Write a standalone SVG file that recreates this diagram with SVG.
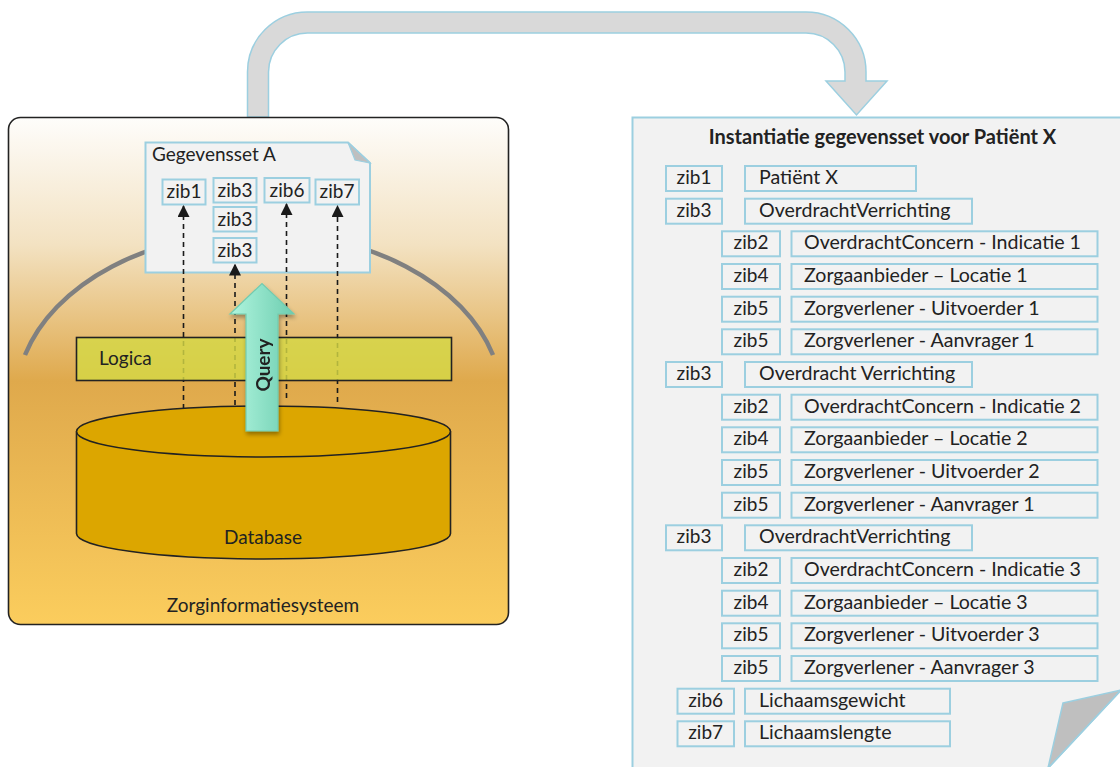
<svg xmlns="http://www.w3.org/2000/svg" width="1120" height="767" viewBox="0 0 1120 767">
<defs>
<linearGradient id="sysGrad" x1="0" y1="0" x2="0" y2="1">
<stop offset="0" stop-color="#fefdfb"/>
<stop offset="0.25" stop-color="#f3e2c2"/>
<stop offset="0.52" stop-color="#dfa94c"/>
<stop offset="1" stop-color="#fbcd5d"/>
</linearGradient>
<linearGradient id="queryGrad" x1="0" y1="0" x2="1" y2="0">
<stop offset="0" stop-color="#b0f5de"/>
<stop offset="1" stop-color="#6dcdb0"/>
</linearGradient>
<filter id="shadow" x="-30%" y="-10%" width="160%" height="130%">
<feGaussianBlur in="SourceAlpha" stdDeviation="2"/>
<feOffset dx="1" dy="3" result="b"/>
<feComponentTransfer><feFuncA type="linear" slope="0.35"/></feComponentTransfer>
<feMerge><feMergeNode/><feMergeNode in="SourceGraphic"/></feMerge>
</filter>
<marker id="tri" viewBox="0 0 12 12" refX="12" refY="6" markerWidth="12" markerHeight="12" markerUnits="userSpaceOnUse" orient="auto">
<path d="M0,0 L12,6 L0,12 Z" fill="#1a1a1a"/>
</marker>
</defs>
<style>
text{font-family:Lato,"Liberation Sans",sans-serif;fill:#222;}
.t{font-size:19px;}
.r{font-size:19.6px;}
.c{text-anchor:middle;}
.zb{fill:#f2f2f2;stroke:#9ccfe0;stroke-width:2;}
.doc{fill:#f2f2f2;stroke:#9ccfe0;stroke-width:2;}
.dash{stroke:#1a1a1a;stroke-width:1.6;stroke-dasharray:5,4;fill:none;marker-end:url(#tri);}
.blk{stroke:#222;stroke-width:1.6;}
</style>

<g id="flow-arrow">
<path d="M247.5,117 V72 A60,60 0 0 1 307.5,12 H806 A60,60 0 0 1 866,72 V81 H887 L856.5,115 L826,81 H845 V72 A39,39 0 0 0 806,33 H307.5 A39,39 0 0 0 268.5,72 V117 Z" fill="#d9d9d9" stroke="#9ccfe0" stroke-width="1.5"/>
</g>

<g id="zorginformatiesysteem">
<rect x="8.5" y="117.5" width="500" height="507" rx="12" fill="url(#sysGrad)" class="blk"/>
<path d="M25,355 A243,168 0 0 1 493,355" fill="none" stroke="#808080" stroke-width="4.5"/>
<text class="t c" x="263" y="612">Zorginformatiesysteem</text>
</g>

<g id="gegevensset-a">
<path d="M145.5,142.5 H348 L370,163 V272.5 H145.5 Z" class="doc"/>
<path d="M348,142.5 L370,163 L355,160 Z" fill="#bfbfbf" stroke="#9ccfe0" stroke-width="1.2"/>
<text class="t" x="152" y="161">Gegevensset A</text>
<rect class="zb" x="162.5" y="179.5" width="43" height="25"/>
<text class="t c" x="184" y="198">zib1</text>
<rect class="zb" x="213.5" y="178" width="43" height="24.5"/>
<text class="t c" x="235" y="196.5">zib3</text>
<rect class="zb" x="213.5" y="207" width="43" height="24.5"/>
<text class="t c" x="235" y="225.5">zib3</text>
<rect class="zb" x="213.5" y="238" width="43" height="24.5"/>
<text class="t c" x="235" y="256.5">zib3</text>
<rect class="zb" x="264.5" y="178" width="45" height="24.5"/>
<text class="t c" x="287" y="196.5">zib6</text>
<rect class="zb" x="315.5" y="179.5" width="43.5" height="25"/>
<text class="t c" x="337" y="198">zib7</text>
</g>

<g id="connectors">
<line class="dash" x1="183.5" y1="409" x2="183.5" y2="205"/>
<line class="dash" x1="235" y1="405" x2="235" y2="263.5"/>
<line class="dash" x1="286.5" y1="398" x2="286.5" y2="203"/>
<line class="dash" x1="337.5" y1="402" x2="337.5" y2="205"/>
</g>

<g id="logica">
<rect x="76.5" y="337.5" width="375" height="43" fill="#d4d846" fill-opacity="0.82" class="blk"/>
<text class="t" x="99" y="365">Logica</text>
</g>

<g id="database">
<path d="M76.5,431.5 V533.5 A187,25.5 0 0 0 450.5,533.5 V431.5" fill="#dca600" class="blk"/>
<ellipse cx="263.5" cy="431.5" rx="187" ry="25.5" fill="#dca600" class="blk"/>
<text class="t c" x="263" y="544">Database</text>
</g>

<g id="query" filter="url(#shadow)">
<path d="M246,431 V314 H230 L262,283.5 L294,314 H278 V431 Z" fill="url(#queryGrad)" stroke="#72cbb0" stroke-width="1.2"/>
<text transform="translate(270,365) rotate(-90)" text-anchor="middle" font-size="19" font-weight="bold" fill="#333">Query</text>
</g>

<g id="instantiatie">
<path d="M632.5,117.5 H1121 V690 L1048,768 H632.5 Z" class="doc"/>
<path d="M1063,703 L1121,690 L1048,768 Z" fill="#bfbfbf" stroke="#9ccfe0" stroke-width="1.5"/>
<text x="882.5" y="144" text-anchor="middle" font-size="20" font-weight="bold">Instantiatie gegevensset voor Patiënt X</text>
</g>

<g id="row-zib1"><rect class="zb" x="666" y="166" width="56" height="25"/><text class="t c" x="694" y="184">zib1</text><rect class="zb" x="745" y="166" width="171" height="25"/><text class="r" x="759" y="184">Patiënt X</text></g>
<g id="row-zib3-a"><rect class="zb" x="666" y="198.7" width="56" height="25"/><text class="t c" x="694" y="216.7">zib3</text><rect class="zb" x="745" y="198.7" width="227" height="25"/><text class="r" x="759" y="216.7">OverdrachtVerrichting</text></g>
<g id="row-zib2-a"><rect class="zb" x="722" y="231.3" width="58" height="25"/><text class="t c" x="751" y="249.3">zib2</text><rect class="zb" x="791.5" y="231.3" width="306" height="25"/><text class="r" x="804" y="249.3">OverdrachtConcern - Indicatie 1</text></g>
<g id="row-zib4-a"><rect class="zb" x="722" y="264" width="58" height="25"/><text class="t c" x="751" y="282">zib4</text><rect class="zb" x="791.5" y="264" width="306" height="25"/><text class="r" x="804" y="282">Zorgaanbieder – Locatie 1</text></g>
<g id="row-zib5-a1"><rect class="zb" x="722" y="296.7" width="58" height="25"/><text class="t c" x="751" y="314.7">zib5</text><rect class="zb" x="791.5" y="296.7" width="306" height="25"/><text class="r" x="804" y="314.7">Zorgverlener - Uitvoerder 1</text></g>
<g id="row-zib5-a2"><rect class="zb" x="722" y="329.3" width="58" height="25"/><text class="t c" x="751" y="347.3">zib5</text><rect class="zb" x="791.5" y="329.3" width="306" height="25"/><text class="r" x="804" y="347.3">Zorgverlener - Aanvrager 1</text></g>
<g id="row-zib3-b"><rect class="zb" x="666" y="362" width="56" height="25"/><text class="t c" x="694" y="380">zib3</text><rect class="zb" x="745" y="362" width="227" height="25"/><text class="r" x="759" y="380">Overdracht Verrichting</text></g>
<g id="row-zib2-b"><rect class="zb" x="722" y="394.7" width="58" height="25"/><text class="t c" x="751" y="412.7">zib2</text><rect class="zb" x="791.5" y="394.7" width="306" height="25"/><text class="r" x="804" y="412.7">OverdrachtConcern - Indicatie 2</text></g>
<g id="row-zib4-b"><rect class="zb" x="722" y="427.3" width="58" height="25"/><text class="t c" x="751" y="445.3">zib4</text><rect class="zb" x="791.5" y="427.3" width="306" height="25"/><text class="r" x="804" y="445.3">Zorgaanbieder – Locatie 2</text></g>
<g id="row-zib5-b1"><rect class="zb" x="722" y="460" width="58" height="25"/><text class="t c" x="751" y="478">zib5</text><rect class="zb" x="791.5" y="460" width="306" height="25"/><text class="r" x="804" y="478">Zorgverlener - Uitvoerder 2</text></g>
<g id="row-zib5-b2"><rect class="zb" x="722" y="492.7" width="58" height="25"/><text class="t c" x="751" y="510.7">zib5</text><rect class="zb" x="791.5" y="492.7" width="306" height="25"/><text class="r" x="804" y="510.7">Zorgverlener - Aanvrager 1</text></g>
<g id="row-zib3-c"><rect class="zb" x="666" y="525.3" width="56" height="25"/><text class="t c" x="694" y="543.3">zib3</text><rect class="zb" x="745" y="525.3" width="227" height="25"/><text class="r" x="759" y="543.3">OverdrachtVerrichting</text></g>
<g id="row-zib2-c"><rect class="zb" x="722" y="558" width="58" height="25"/><text class="t c" x="751" y="576">zib2</text><rect class="zb" x="791.5" y="558" width="306" height="25"/><text class="r" x="804" y="576">OverdrachtConcern - Indicatie 3</text></g>
<g id="row-zib4-c"><rect class="zb" x="722" y="590.7" width="58" height="25"/><text class="t c" x="751" y="608.7">zib4</text><rect class="zb" x="791.5" y="590.7" width="306" height="25"/><text class="r" x="804" y="608.7">Zorgaanbieder – Locatie 3</text></g>
<g id="row-zib5-c1"><rect class="zb" x="722" y="623.3" width="58" height="25"/><text class="t c" x="751" y="641.3">zib5</text><rect class="zb" x="791.5" y="623.3" width="306" height="25"/><text class="r" x="804" y="641.3">Zorgverlener - Uitvoerder 3</text></g>
<g id="row-zib5-c2"><rect class="zb" x="722" y="656" width="58" height="25"/><text class="t c" x="751" y="674">zib5</text><rect class="zb" x="791.5" y="656" width="306" height="25"/><text class="r" x="804" y="674">Zorgverlener - Aanvrager 3</text></g>
<g id="row-zib6"><rect class="zb" x="677.5" y="688.7" width="56.5" height="25"/><text class="t c" x="705.7" y="706.7">zib6</text><rect class="zb" x="745" y="688.7" width="205" height="25"/><text class="r" x="759" y="706.7">Lichaamsgewicht</text></g>
<g id="row-zib7"><rect class="zb" x="677.5" y="721.3" width="56.5" height="25"/><text class="t c" x="705.7" y="739.3">zib7</text><rect class="zb" x="745" y="721.3" width="205" height="25"/><text class="r" x="759" y="739.3">Lichaamslengte</text></g>
</svg>
